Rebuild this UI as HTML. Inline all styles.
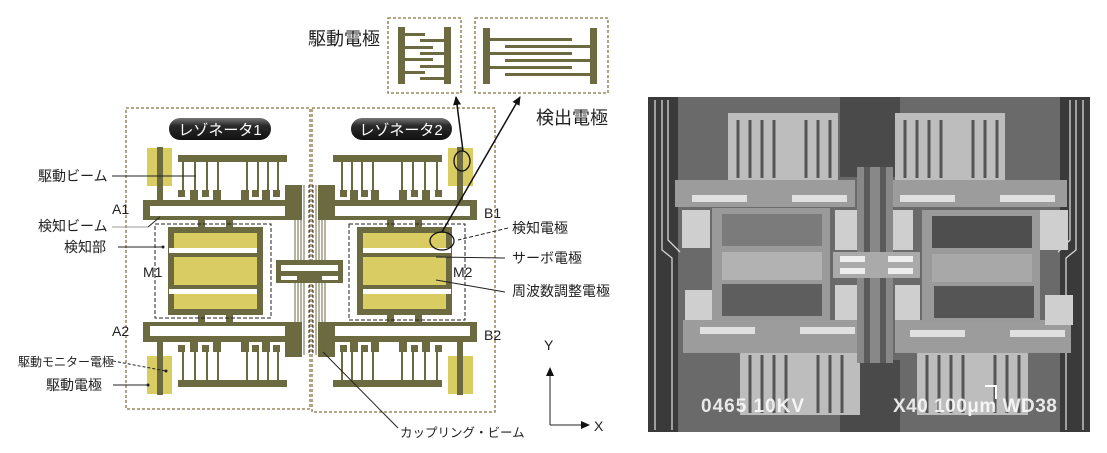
<!DOCTYPE html>
<html><head><meta charset="utf-8"><style>
html,body{margin:0;padding:0;background:#fff;}
svg{display:block;}
text{font-family:"Liberation Sans","Noto Sans CJK JP",sans-serif;}
</style></head><body>
<svg width="1107" height="453" viewBox="0 0 1107 453" xmlns="http://www.w3.org/2000/svg">
<defs>
<linearGradient id="pill" x1="0" y1="0" x2="0" y2="1">
<stop offset="0" stop-color="#777"/><stop offset="0.35" stop-color="#2a2a2a"/><stop offset="1" stop-color="#111"/></linearGradient>
<marker id="ah" markerWidth="10" markerHeight="10" refX="8" refY="5" orient="auto" markerUnits="userSpaceOnUse">
<path d="M0,1 L9,5 L0,9 z" fill="#111"/></marker>
<g id="quad">
 <rect x="147" y="148" width="25" height="38" fill="#d9cc62"/>
 <rect x="157" y="147" width="6" height="56" fill="#6b6a40"/>
 <rect x="178" y="155" width="109" height="7" fill="#6b6a40"/>
 <g fill="#6b6a40">
  <rect x="182" y="162" width="2" height="30"/><rect x="194" y="162" width="2" height="30"/>
  <rect x="206" y="162" width="2" height="30"/><rect x="217" y="162" width="2" height="30"/>
  <rect x="246" y="162" width="2" height="30"/><rect x="257" y="162" width="2" height="30"/>
  <rect x="267" y="162" width="2" height="30"/><rect x="277" y="162" width="2" height="30"/>
  <rect x="178" y="190" width="7" height="7"/><rect x="190" y="190" width="8" height="11"/>
  <rect x="202" y="190" width="7" height="7"/><rect x="213" y="190" width="8" height="11"/>
  <rect x="241" y="190" width="8" height="11"/><rect x="252" y="190" width="7" height="7"/>
  <rect x="262" y="190" width="8" height="11"/><rect x="273" y="190" width="7" height="7"/>
  <rect x="143" y="200" width="144" height="20"/>
  <rect x="285" y="185" width="17" height="35"/>
  <rect x="198" y="218" width="7" height="10"/><rect x="226" y="218" width="7" height="10"/>
  <rect x="168" y="227" width="95" height="44"/>
 </g>
 <rect x="150" y="206" width="135" height="10" fill="#fff"/>
 <rect x="174" y="233" width="83" height="15" fill="#d9cc62"/>
 <rect x="169" y="248" width="88" height="5" fill="#fff"/>
 <rect x="174" y="257" width="83" height="14" fill="#d9cc62"/>
</g>
</defs>

<rect x="126" y="108" width="184" height="301" fill="none" stroke="#8a7040" stroke-width="1.3" stroke-dasharray="3,2"/>
<rect x="312" y="108" width="183" height="304" fill="none" stroke="#8a7040" stroke-width="1.3" stroke-dasharray="3,2"/>

<use href="#quad"/>
<use href="#quad" transform="translate(620,0) scale(-1,1)"/>
<use href="#quad" transform="translate(0,542) scale(1,-1)"/>
<use href="#quad" transform="translate(620,542) scale(-1,-1)"/>

<g stroke="#6b6a40" stroke-width="1">
<line x1="295" y1="185" x2="295" y2="355"/><line x1="298" y1="185" x2="298" y2="355"/>
<line x1="301" y1="185" x2="301" y2="355"/><line x1="304" y1="185" x2="304" y2="355"/>
<line x1="316" y1="185" x2="316" y2="355"/><line x1="319" y1="185" x2="319" y2="355"/>
<line x1="322" y1="185" x2="322" y2="355"/><line x1="325" y1="185" x2="325" y2="355"/>
</g>
<g stroke="#333" stroke-width="1" stroke-dasharray="3,2">
<line x1="309" y1="185" x2="309" y2="355"/><line x1="313" y1="185" x2="313" y2="355"/>
</g>
<rect x="276" y="260" width="67" height="23" fill="#6b6a40"/>
<rect x="281" y="265" width="57" height="6" fill="#fff"/>
<rect x="281" y="276" width="16" height="4" fill="#fff"/><rect x="322" y="276" width="16" height="4" fill="#fff"/>

<rect x="155" y="224" width="116" height="94" fill="none" stroke="#222" stroke-width="1" stroke-dasharray="4,2"/>
<rect x="349" y="224" width="116" height="96" fill="none" stroke="#222" stroke-width="1" stroke-dasharray="4,2"/>

<rect x="169" y="118" width="102" height="22" rx="11" fill="url(#pill)"/>
<rect x="351" y="118" width="101" height="22" rx="11" fill="url(#pill)"/>
<text x="220" y="135" font-size="15" fill="#fff" text-anchor="middle">レゾネータ1</text>
<text x="401" y="135" font-size="15" fill="#fff" text-anchor="middle">レゾネータ2</text>

<rect x="388" y="18" width="73" height="75" fill="none" stroke="#8a7040" stroke-width="1.3" stroke-dasharray="3,2"/>
<rect x="475" y="18" width="133" height="75" fill="none" stroke="#8a7040" stroke-width="1.3" stroke-dasharray="3,2"/>
<g fill="#6b6a40">
<rect x="398" y="27" width="7" height="57"/><rect x="444" y="27" width="7" height="57"/>
<rect x="405" y="33" width="20" height="3"/><rect x="420" y="39" width="24" height="3"/>
<rect x="405" y="46" width="28" height="3"/><rect x="420" y="52" width="24" height="3"/>
<rect x="405" y="58" width="28" height="3"/><rect x="420" y="65" width="24" height="3"/>
<rect x="405" y="71" width="20" height="3"/><rect x="420" y="77" width="24" height="3"/>
<rect x="483" y="28" width="7" height="56"/><rect x="590" y="28" width="7" height="56"/>
<rect x="490" y="38" width="82" height="3"/><rect x="505" y="45" width="85" height="3"/>
<rect x="490" y="52" width="82" height="3"/><rect x="505" y="59" width="85" height="3"/>
<rect x="490" y="66" width="82" height="3"/><rect x="505" y="73" width="85" height="3"/>
</g>
<text x="308" y="45" font-size="18" fill="#222">駆動電極</text>
<text x="536" y="124" font-size="18" fill="#222">検出電極</text>

<ellipse cx="462" cy="161" rx="8" ry="10" fill="none" stroke="#111" stroke-width="1.3"/>
<ellipse cx="442" cy="241" rx="12" ry="9" fill="none" stroke="#111" stroke-width="1.3"/>
<line x1="463" y1="151" x2="456" y2="97" stroke="#111" stroke-width="1.5" marker-end="url(#ah)"/>
<line x1="442" y1="232" x2="520" y2="97" stroke="#111" stroke-width="1.5" marker-end="url(#ah)"/>

<g font-size="14" fill="#222">
<text x="38" y="181">駆動ビーム</text>
<text x="38" y="231">検知ビーム</text>
<text x="64" y="252">検知部</text>
<text x="18" y="366" font-size="12">駆動モニター電極</text>
<text x="46" y="390">駆動電極</text>
<text x="512" y="233">検知電極</text>
<text x="512" y="263">サーボ電極</text>
<text x="512" y="296">周波数調整電極</text>
<text x="400" y="437" font-size="12.5">カップリング・ビーム</text>
</g>
<g font-size="14" fill="#222">
<text x="112" y="214">A1</text><text x="143" y="277">M1</text><text x="112" y="336">A2</text>
<text x="484" y="218">B1</text><text x="453" y="277">M2</text><text x="484" y="340">B2</text>
<text x="544" y="350">Y</text><text x="594" y="431">X</text>
</g>
<g stroke="#222" stroke-width="1" fill="none">
<line x1="112" y1="176" x2="196" y2="176"/>
<line x1="112" y1="227" x2="148" y2="227" stroke="#999"/><line x1="148" y1="227" x2="160" y2="217"/>
<line x1="118" y1="247" x2="163" y2="247"/>
<line x1="113" y1="361" x2="166" y2="371" stroke-dasharray="3,2"/>
<line x1="113" y1="385" x2="148" y2="385"/>
<line x1="508" y1="228" x2="458" y2="240" stroke-dasharray="4,2"/>
<line x1="505" y1="258" x2="436" y2="257"/>
<line x1="505" y1="292" x2="436" y2="280"/>
<line x1="398" y1="428" x2="323" y2="352"/>
<line x1="550" y1="425" x2="550" y2="368" marker-end="url(#ah)"/>
<line x1="550" y1="425" x2="589" y2="425" marker-end="url(#ah)"/>
</g>
<circle cx="163" cy="247" r="1.5" fill="#222"/><circle cx="166" cy="371" r="1.5" fill="#222"/><circle cx="148" cy="385" r="1.5" fill="#222"/>

<g>
<rect x="648" y="97" width="442" height="335" fill="#6a6a6a"/>
<rect x="648" y="97" width="30" height="335" fill="#3a3a3a"/>
<rect x="1060" y="97" width="30" height="335" fill="#3a3a3a"/>
<g stroke="#d8d8d8" stroke-width="1.3" fill="none">
<path d="M655,100 L655,430 M662,100 L662,250 L672,258 L672,430 M668,100 L668,240 L680,252"/>
<path d="M1083,100 L1083,430 M1076,100 L1076,250 L1066,258 L1066,430 M1070,100 L1070,240 L1058,252"/>
</g>
<rect x="840" y="97" width="60" height="80" fill="#4a4a4a"/>
<rect x="840" y="360" width="60" height="72" fill="#4a4a4a"/>
<rect x="728" y="113" width="110" height="67" fill="#bdbdbd"/>
<rect x="895" y="113" width="110" height="67" fill="#bdbdbd"/>
<rect x="917" y="350" width="111" height="65" fill="#bdbdbd"/>
<rect x="740" y="350" width="120" height="65" fill="#bdbdbd"/>
<g stroke="#555" stroke-width="3">
<path d="M738,120 V178 M750,120 V178 M762,120 V178 M774,120 V178 M806,120 V178 M818,120 V178 M830,120 V178"/>
<path d="M905,120 V178 M917,120 V178 M929,120 V178 M941,120 V178 M973,120 V178 M985,120 V178 M997,120 V178"/>
<path d="M750,355 V413 M762,355 V413 M774,355 V413 M786,355 V413 M818,355 V413 M830,355 V413 M842,355 V413"/>
<path d="M927,355 V413 M939,355 V413 M951,355 V413 M963,355 V413 M995,355 V413 M1007,355 V413 M1019,355 V413"/>
</g>
<rect x="675" y="180" width="180" height="27" fill="#9c9c9c"/>
<rect x="885" y="180" width="182" height="27" fill="#9c9c9c"/>
<rect x="683" y="320" width="176" height="33" fill="#9c9c9c"/>
<rect x="895" y="320" width="176" height="33" fill="#9c9c9c"/>
<g fill="#e0e0e0">
<rect x="692" y="195" width="55" height="7"/><rect x="792" y="195" width="55" height="7"/>
<rect x="900" y="195" width="55" height="7"/><rect x="1000" y="195" width="55" height="7"/>
<rect x="700" y="327" width="55" height="7"/><rect x="800" y="327" width="55" height="7"/>
<rect x="910" y="330" width="55" height="7"/><rect x="1010" y="330" width="55" height="7"/>
</g>
<g fill="#cfcfcf">
<rect x="682" y="210" width="28" height="38"/><rect x="835" y="210" width="22" height="40"/>
<rect x="888" y="210" width="25" height="40"/><rect x="1040" y="210" width="28" height="40"/>
<rect x="685" y="290" width="28" height="30"/><rect x="835" y="285" width="22" height="35"/>
<rect x="895" y="285" width="25" height="35"/><rect x="1045" y="295" width="28" height="30"/>
</g>
<rect x="712" y="208" width="118" height="112" fill="#9a9a9a"/>
<rect x="922" y="210" width="118" height="112" fill="#9a9a9a"/>
<rect x="722" y="214" width="100" height="32" fill="#7b7b7b"/>
<rect x="722" y="284" width="100" height="32" fill="#5e5e5e"/>
<rect x="932" y="216" width="100" height="32" fill="#4e4e4e"/>
<rect x="934" y="286" width="100" height="32" fill="#555"/>
<rect x="722" y="252" width="100" height="28" fill="#b2b2b2"/>
<rect x="932" y="254" width="100" height="28" fill="#a8a8a8"/>
<rect x="857" y="167" width="36" height="196" fill="#888"/>
<rect x="864" y="167" width="6" height="196" fill="#5a5a5a"/><rect x="880" y="167" width="6" height="196" fill="#5a5a5a"/>
<rect x="833" y="252" width="87" height="26" fill="#aaa"/>
<rect x="840" y="256" width="25" height="6" fill="#eee"/><rect x="888" y="256" width="25" height="6" fill="#eee"/>
<rect x="840" y="268" width="25" height="6" fill="#eee"/><rect x="888" y="268" width="25" height="6" fill="#eee"/>
<g font-family="Liberation Mono, monospace" font-weight="bold" font-size="19" fill="#fff" fill-opacity="0.85">
<text x="701" y="412" letter-spacing="1">0465  10KV</text>
<text x="893" y="412" letter-spacing="0.5">X40 100μm WD38</text>
</g>
<rect x="985" y="385" width="12" height="2" fill="#fff"/><rect x="995" y="385" width="2" height="14" fill="#fff"/>
</g>
</svg>
</body></html>
